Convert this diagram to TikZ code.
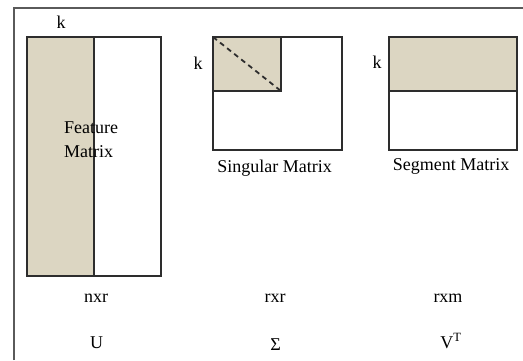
\documentclass[tikz,border=0pt]{standalone}
\usepackage{fontspec}
\setmainfont{Liberation Serif}
\definecolor{shade}{RGB}{220,214,194}
\definecolor{edge}{RGB}{45,45,45}
\definecolor{framec}{RGB}{90,90,90}
\tikzset{
  mat/.style={draw=edge, line width=1.8pt},
  shaded/.style={fill=shade, draw=edge, line width=1.8pt},
  lbl/.style={inner sep=0pt, anchor=base, font=\fontsize{18}{21}\selectfont, text=black},
}
\begin{document}
\begin{tikzpicture}[x=1pt,y=-1pt]
\useasboundingbox (0,0) rectangle (523,360);
\fill[white] (0,0) rectangle (523,360);
% outer frame (left and top only)
\draw[framec, line width=1.6pt] (14,360) -- (14,8) -- (523,8);
% U
\draw[shaded] (27,37) rectangle (94,276);
\draw[mat] (27,37) rectangle (161,276);
\draw[edge, line width=1.8pt] (94,37) -- (94,276);
\node[lbl] (ku) at (61,28) {k};
\node[lbl, anchor=base west] (feat1) at (64,133) {Feature};
\node[lbl, anchor=base west] (feat2) at (64,157) {Matrix};
\node[lbl] (nxr) at (96,302) {nxr};
\node[lbl] (U) at (96.5,348) {U};
% Sigma
\draw[shaded] (213,37) rectangle (281,91);
\draw[mat] (213,37) rectangle (342,150);
\draw[edge, line width=1.8pt, dashed, dash pattern=on 5pt off 4pt] (213,37) -- (281,91);
\node[lbl] (ks) at (198,69) {k};
\node[lbl] (sing) at (274.5,172) {Singular Matrix};
\node[lbl] (rxr) at (275,302) {rxr};
\node[lbl] (S) at (275.5,350) {Σ};
% V^T
\draw[shaded] (389,37) rectangle (517,91);
\draw[mat] (389,37) rectangle (517,150);
\node[lbl] (kv) at (377,68) {k};
\node[lbl] (seg) at (451,170) {Segment Matrix};
\node[lbl] (rxm) at (448,302) {rxm};
\node[lbl] (V) at (451,348) {V\textsuperscript{T}};
\end{tikzpicture}
\end{document}
